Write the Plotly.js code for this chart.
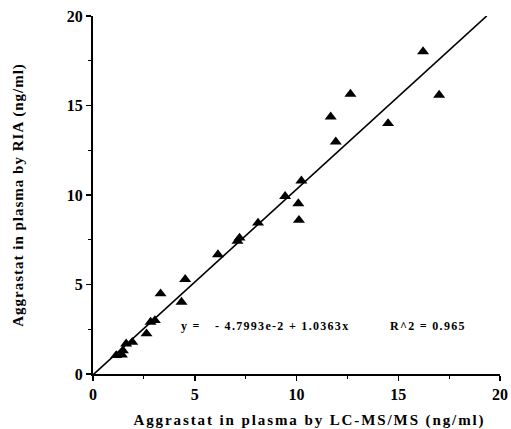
<!DOCTYPE html>
<html>
<head>
<meta charset="utf-8">
<script src="https://cdn.plot.ly/plotly-3.0.1.min.js"></script>
<style>
html,body{margin:0;padding:0;background:#fff;}
#chart{width:511px;height:429px;}
.xtitle{letter-spacing:1.9px;transform:translateX(13px);}
.ytitle{letter-spacing:1px;}
.annotation-text{letter-spacing:1.3px;}
</style>
</head>
<body>
<div id="chart"></div>
<script>
// LC-MS/MS (x) vs RIA (y), ng/ml
const lcms = [1.14, 1.42, 1.47, 1.63, 1.93, 2.63, 2.83, 3.04, 3.32, 4.35, 4.53, 6.14, 7.10, 7.20, 8.11, 9.44, 10.09, 10.12, 10.24, 11.68, 11.93, 12.65, 14.50, 16.22, 17.01];
const ria  = [1.04, 1.07, 1.31, 1.69, 1.78, 2.25, 2.90, 2.99, 4.49, 4.02, 5.29, 6.67, 7.42, 7.60, 8.44, 9.93, 9.52, 8.59, 10.79, 14.37, 12.97, 15.64, 14.00, 18.01, 15.58];
const intercept = -4.7993e-2;
const slope = 1.0363;
const fitX = [0, 19.35];
const fitY = fitX.map(v => intercept + slope * v);
const xTicks = [0, 5, 10, 15, 20];
const yTicks = [0, 5, 10, 15, 20];

const serif = "Liberation Serif, Times New Roman, serif";
const traces = [
  {x: fitX, y: fitY, mode: 'lines', line: {color: '#000', width: 1.6}, hoverinfo: 'skip'},
  {x: lcms, y: ria, mode: 'markers', marker: {symbol: 'triangle-up', size: 10.5, color: '#000'}, cliponaxis: false}
];
const axisCommon = {
  showgrid: false, zeroline: false, showline: true, linecolor: '#000', linewidth: 2,
  ticks: 'outside', ticklen: 5, tickwidth: 1.5, tickcolor: '#000',
  tickfont: {family: serif, size: 16, color: '#000', weight: 'bold'},
  minor: {dtick: 2.5, ticks: 'outside', ticklen: 3, tickwidth: 1, tickcolor: '#000', showgrid: false},
  tickmode: 'array'
};
const annFont = {family: serif, size: 12, color: '#000', weight: 'bold'};
const layout = {
  width: 511, height: 429,
  margin: {l: 93, r: 11, t: 16, b: 55},
  paper_bgcolor: '#fff', plot_bgcolor: '#fff',
  showlegend: false,
  xaxis: Object.assign({}, axisCommon, {
    range: [0, 20], tickvals: xTicks, ticktext: xTicks.map(String),
    title: {text: 'Aggrastat in plasma by LC-MS/MS (ng/ml)', font: {family: serif, size: 15, color: '#000', weight: 'bold'}, standoff: 13}
  }),
  yaxis: Object.assign({}, axisCommon, {
    range: [0, 20], tickvals: yTicks, ticktext: yTicks.map(String),
    title: {text: 'Aggrastat in plasma by RIA (ng/ml)', font: {family: serif, size: 15, color: '#000', weight: 'bold'}, standoff: 40}
  }),
  annotations: [
    {xref: 'x', yref: 'y', x: 4.25, y: 2.7, xanchor: 'left', yanchor: 'middle', showarrow: false, text: 'y =', font: annFont},
    {xref: 'x', yref: 'y', x: 5.9, y: 2.7, xanchor: 'left', yanchor: 'middle', showarrow: false, text: '- 4.7993e-2 + 1.0363x', font: annFont},
    {xref: 'x', yref: 'y', x: 14.48, y: 2.7, xanchor: 'left', yanchor: 'middle', showarrow: false, text: 'R^2 = 0.965', font: annFont}
  ]
};
Plotly.newPlot('chart', traces, layout, {displayModeBar: false, staticPlot: true});
</script>
</body>
</html>
